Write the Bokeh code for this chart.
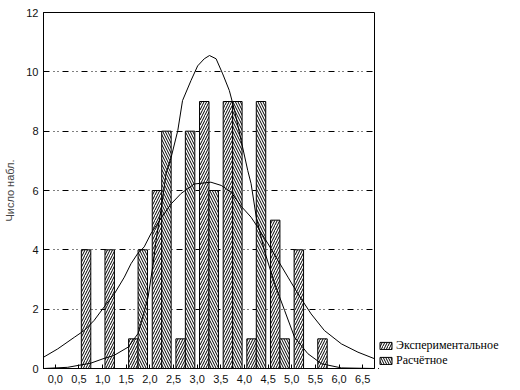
from bokeh.plotting import figure
from bokeh.layouts import row
from bokeh.models import (ColumnDataSource, Range1d, FixedTicker,
                          Legend, LegendItem)
from bokeh.embed import file_html
from bokeh.resources import INLINE

# ---- data ----
bin_edges = [0.75, 1.25, 1.75, 2.25, 2.75, 3.25, 3.75, 4.25, 4.75, 5.25, 5.75]
exp_counts = [4, 4, 1, 6, 1, 9, 9, 1, 5, 4, 1]
calc_counts = [0, 0, 4, 8, 8, 6, 9, 9, 1, 0, 0]

x_ticks = [0.0, 0.5, 1.0, 1.5, 2.0, 2.5, 3.0, 3.5, 4.0, 4.5, 5.0, 5.5, 6.0, 6.5]
x_tick_labels = ["0,0", "0,5", "1,0", "1,5", "2,0", "2,5", "3,0", "3,5",
                 "4,0", "4,5", "5,0", "5,5", "6,0", "6,5"]
y_ticks = [0, 2, 4, 6, 8, 10, 12]

narrow_x = [-0.25, 0.26, 0.75, 1.03, 1.24, 1.54, 1.75, 1.81, 1.96, 2.07, 2.13,
            2.26, 2.34, 2.45, 2.59, 2.69, 2.87, 3.01, 3.15, 3.26, 3.40, 3.54,
            3.68, 3.79, 3.93, 4.07, 4.14, 4.25, 4.42, 4.64, 4.85, 5.06, 5.34,
            5.63, 6.05, 6.75]
narrow_y = [0.0, 0.04, 0.18, 0.34, 0.44, 0.72, 1.18, 1.52, 2.39, 3.54, 4.31,
            5.6, 6.56, 7.12, 8.02, 9.03, 9.71, 10.2, 10.44, 10.55, 10.44, 9.93,
            9.37, 8.70, 7.68, 6.67, 6.23, 5.10, 3.98, 2.85, 1.95, 1.05, 0.50,
            0.16, 0.02, 0.0]

wide_x = [-0.25, 0.05, 0.40, 0.61, 0.82, 1.03, 1.25, 1.46, 1.60, 1.74, 1.88,
          2.02, 2.25, 2.45, 2.66, 2.94, 3.29, 3.51, 3.72, 3.93, 4.14, 4.28,
          4.50, 4.71, 4.92, 5.13, 5.41, 5.69, 6.05, 6.40, 6.75]
wide_y = [0.38, 0.66, 1.05, 1.28, 1.62, 2.07, 2.52, 3.08, 3.53, 3.87, 4.10,
          4.54, 5.10, 5.55, 5.90, 6.22, 6.28, 6.17, 5.94, 5.47, 5.10, 4.76,
          4.20, 3.64, 3.08, 2.52, 1.84, 1.28, 0.83, 0.55, 0.33]

series_names = ["Экспериментальное", "Расчётное"]
y_title = "Число набл."

# ---- styles ----
bar_w = 0.2
exp_style = dict(fill_color="white", line_color="black", line_width=1,
                 hatch_pattern="/", hatch_color="black", hatch_scale=5,
                 hatch_weight=1)
calc_style = dict(fill_color="white", line_color="black", line_width=1,
                  hatch_pattern="\\", hatch_color="black", hatch_scale=5,
                  hatch_weight=1)

# ---- main figure ----
p = figure(width=378, height=390, output_backend="svg", toolbar_location=None,
           x_range=Range1d(-0.25, 6.75), y_range=Range1d(0, 12),
           min_border_left=43, min_border_right=4, min_border_top=12,
           min_border_bottom=22)
p.background_fill_color = "white"
p.border_fill_color = "white"
p.outline_line_color = "black"
p.outline_line_width = 1

src = ColumnDataSource(dict(
    xe=[b - bar_w / 2 for b in bin_edges],
    xc=[b + bar_w / 2 for b in bin_edges],
    exp=exp_counts, calc=calc_counts))

p.vbar(x="xe", top="exp", width=bar_w, source=src, **exp_style)
p.vbar(x="xc", top="calc", width=bar_w, source=src, **calc_style)

p.line(narrow_x, narrow_y, line_color="black", line_width=1)
p.line(wide_x, wide_y, line_color="black", line_width=1)

# grid
p.xgrid.visible = False
p.ygrid.ticker = FixedTicker(ticks=y_ticks)
p.ygrid.grid_line_color = "black"
p.ygrid.grid_line_width = 1
p.ygrid.grid_line_dash = "6 4 1 3 1 4"

# axes
font = "Liberation Sans"
xa = p.xaxis[0]
xa.ticker = FixedTicker(ticks=x_ticks)
xa.major_label_overrides = {t: l for t, l in zip(x_ticks, x_tick_labels)}
xa.minor_tick_line_color = None
xa.major_tick_in = 4
xa.major_tick_out = 0
xa.major_label_standoff = 6
xa.axis_line_color = "black"
xa.major_label_text_font = font
xa.major_label_text_font_size = "11px"
xa.major_label_text_color = "#111111"

ya = p.yaxis[0]
ya.ticker = FixedTicker(ticks=y_ticks)
ya.minor_tick_line_color = None
ya.major_tick_in = 4
ya.major_tick_out = 0
ya.major_label_standoff = 5
ya.axis_line_color = "black"
ya.major_label_text_font = font
ya.major_label_text_font_size = "11px"
ya.major_label_text_color = "#111111"
ya.axis_label = y_title
ya.axis_label_text_font = font
ya.axis_label_text_font_size = "11px"
ya.axis_label_text_font_style = "normal"
ya.axis_label_standoff = 7

# ---- legend panel (separate figure on the right; bars kept out of view) ----
p2 = figure(width=142, height=390, output_backend="svg", toolbar_location=None,
            x_range=Range1d(100, 101), y_range=Range1d(100, 101),
            x_axis_location=None, y_axis_location=None, min_border=0)
p2.grid.visible = False
p2.outline_line_color = None
p2.background_fill_color = "white"
p2.border_fill_color = "white"
l_exp = p2.vbar(x="xe", top="exp", width=bar_w, source=src, **exp_style)
l_calc = p2.vbar(x="xc", top="calc", width=bar_w, source=src, **calc_style)

legend = Legend(items=[LegendItem(label=series_names[0], renderers=[l_exp]),
                       LegendItem(label=series_names[1], renderers=[l_calc])],
                location=(0, 0), orientation="vertical")
legend.label_text_font = "Liberation Serif"
legend.label_text_font_size = "12px"
legend.label_text_color = "black"
legend.glyph_width = 15
legend.glyph_height = 9
legend.label_height = 9
legend.label_standoff = 3
legend.spacing = -2
legend.padding = 2
legend.margin = 0
legend.border_line_color = None
legend.background_fill_alpha = 0
p2.add_layout(legend)

layout = row(p, p2)
open("out.html", "w").write(file_html(layout, INLINE))
